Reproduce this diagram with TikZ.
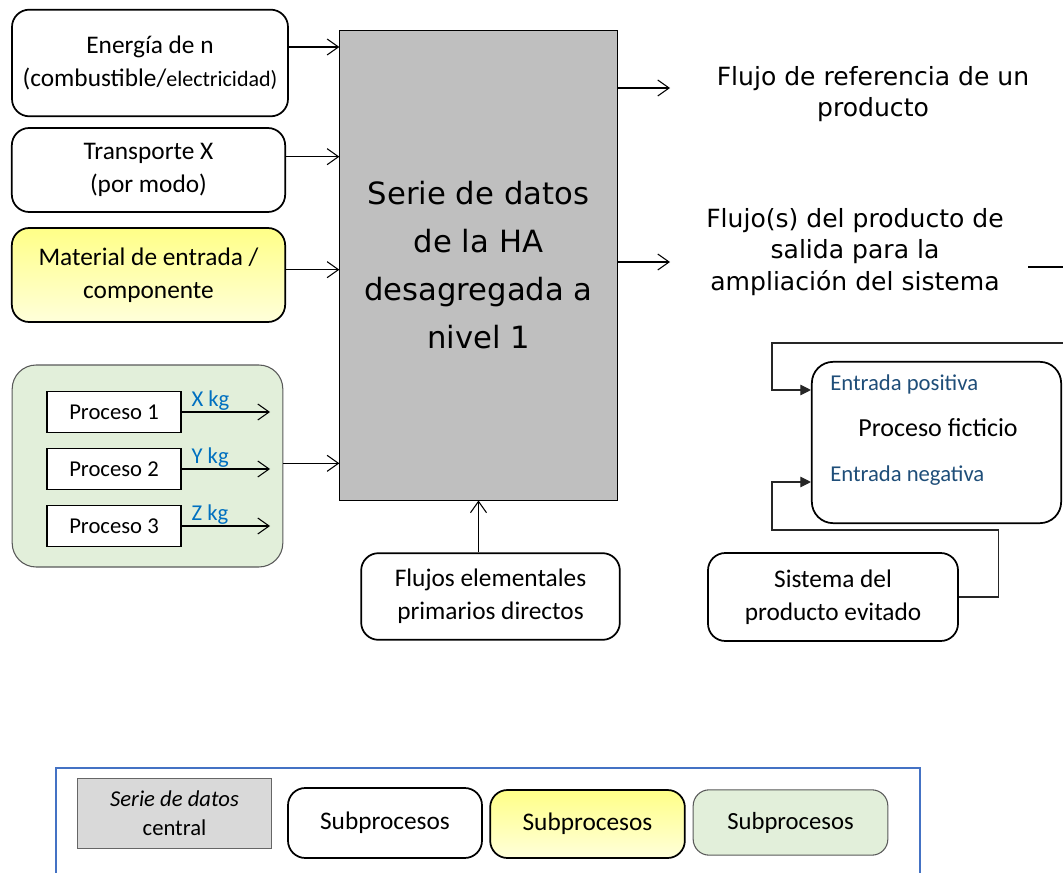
\documentclass[tikz,border=0pt]{standalone}
\usepackage{fontspec}
\setmainfont{Carlito}
\newfontfamily\verdfont{DejaVu Sans}
\usepackage{tikz}
\usetikzlibrary{arrows.meta}

\definecolor{coregray}{RGB}{191,191,191}
\definecolor{keygray}{RGB}{217,217,217}
\definecolor{groupgreen}{RGB}{226,239,218}
\definecolor{matyellowtop}{RGB}{255,255,135}
\definecolor{matyellowbot}{RGB}{255,255,218}
\definecolor{kgblue}{RGB}{0,112,192}
\definecolor{entblue}{RGB}{31,78,121}
\definecolor{legendblue}{RGB}{68,114,196}

\begin{document}
\begin{tikzpicture}[x=0.75pt, y=-0.75pt, >={Straight Barb[length=8.5pt,width=12pt]}]
    \useasboundingbox (0,0) rectangle (1063,873);

    % --- DEFINE STYLES ---
    % Style for the rounded sub-process boxes
    \tikzstyle{subproc} = [draw, line width=1.3pt, rounded corners=13pt, fill=white, align=center, inner sep=2pt, font=\fontsize{19}{24.5}\selectfont]
    % Style for the input material box
    \tikzstyle{matbox} = [subproc, top color=matyellowtop, bottom color=matyellowbot]
    % Style for the group of processes
    \tikzstyle{groupbox} = [draw=black!65, line width=0.8pt, fill=groupgreen, rounded corners=18pt]
    % Style for the single processes
    \tikzstyle{procbox} = [draw, line width=0.8pt, fill=white, minimum width=100.5pt, minimum height=31pt, font=\fontsize{17}{20}\selectfont]
    % Style for the central data set
    \tikzstyle{corebox} = [draw, line width=0.7pt, fill=coregray, minimum width=208pt, minimum height=352.5pt, align=center, font=\verdfont\fontsize{23}{36}\selectfont]
    % Style for the output texts
    \tikzstyle{outtext} = [align=center, font=\verdfont\fontsize{18.8}{23.5}\selectfont]
    % Style for the blue labels
    \tikzstyle{kglabel} = [text=kgblue, inner sep=1pt, font=\fontsize{17}{20}\selectfont]
    \tikzstyle{entlabel} = [text=entblue, inner sep=0pt, anchor=west, font=\fontsize{17}{20}\selectfont]
    % Style for the connectors
    \tikzstyle{flow} = [->, line width=0.8pt]
    \tikzstyle{fbarrow} = [-{Triangle[length=8pt,width=8pt]}, line width=0.8pt, black!85]
    % Style for the legend boxes
    \tikzstyle{keybox} = [minimum width=145.5pt, minimum height=52.5pt, align=center, font=\fontsize{18.5}{22}\selectfont]

    % --- CENTRAL DATA SET ---
    \node[corebox] (serie) at (478.5,265) {Serie de datos\\de la HA\\desagregada a\\nivel 1};

    % --- INPUT BOXES ---
    \node[subproc, minimum width=207pt, minimum height=80pt] (energia) at (150,63)
        {Energía de n\\(combustible/{\fontsize{16.5}{24.5}\selectfont electricidad)}};
    \node[subproc, minimum width=205pt, minimum height=63pt] (transporte) at (148.5,170)
        {Transporte X\\(por modo)};
    \node[matbox, minimum width=205pt, minimum height=70.5pt] (material) at (148.5,275)
        {Material de entrada /\\componente};

    \draw[flow] ([yshift=12pt]energia.east) -- ([yshift=12pt]energia.east -| serie.west);
    \draw[flow] ([yshift=10pt]transporte.east) -- ([yshift=10pt]transporte.east -| serie.west);
    \draw[flow] ([yshift=4pt]material.east) -- ([yshift=4pt]material.east -| serie.west);

    % --- GROUP OF PROCESSES ---
    \node[groupbox, minimum width=203pt, minimum height=151.5pt] (grupo) at (147.5,466) {};
    \foreach \i/\y/\m in {1/412/X, 2/469/Y, 3/526/Z} {
        \node[procbox] (p\i) at (114,\y) {Proceso \i};
        \draw[flow, shorten >=10pt] (p\i.east) -- (p\i.east -| grupo.east)
            node[kglabel, pos=0.08, anchor=south west] {\m\ kg};
    }
    \draw[flow] ([yshift=2pt]grupo.east) -- ([yshift=2pt]grupo.east -| serie.west);

    % --- ELEMENTARY FLOWS ---
    \node[subproc, minimum width=194pt, minimum height=65pt] (elemental) at (490.5,596.5)
        {Flujos elementales\\primarios directos};
    \draw[flow] (elemental.north -| serie.south) -- (serie.south);

    % --- OUTPUTS ---
    \node[outtext] (referencia) at (873,94) {Flujo de referencia de un\\producto};
    \node[outtext] (salida) at (855,252) {Flujo(s) del producto de\\salida para la\\ampliación del sistema};
    \coordinate (refend) at (670,88);
    \coordinate (salend) at (670,262);
    \draw[flow] (serie.east |- refend) -- (refend);
    \draw[flow] (serie.east |- salend) -- (salend);
    \coordinate (ampA) at (1028,267);
    \coordinate (ampB) at (1063,267);
    \draw[line width=0.8pt] (ampA) -- (ampB);

    % --- FICTITIOUS PROCESS ---
    \node[subproc, minimum width=187pt, minimum height=121pt, rounded corners=16pt] (ficticio) at (936.5,442.5) {};
    \node[entlabel] (positiva) at (830,384) {Entrada positiva};
    \node[font=\fontsize{19.5}{22}\selectfont] (ficttext) at (938,428) {Proceso ficticio};
    \node[entlabel] (negativa) at (830,476) {Entrada negativa};
    \node[subproc, minimum width=187.5pt, minimum height=66pt] (evitado) at (833,597)
        {Sistema del\\producto evitado};

    \coordinate (loopin) at (1063,343);
    \draw[fbarrow] (loopin) -- ++(-291,0) |- (ficticio.west |- 0,390);
    \draw[fbarrow] (evitado.east) -- ++(40,0) |- (772,530) |- (ficticio.west |- 0,482);

    % --- LEGEND ---
    \draw[legendblue, line width=0.8pt] (56,873) |- (920,768) -- (920,873);
    \node[keybox, draw=black!60, line width=0.6pt, fill=keygray, font=\fontsize{17}{22}\selectfont] (keycore) at (174.5,813)
        {\textit{Serie de datos}\\central};
    \node[keybox, subproc, minimum width=145.5pt, minimum height=52.5pt] (keywhite) at (385,823) {Subprocesos};
    \node[keybox, matbox, minimum width=146pt, minimum height=51pt] (keyyellow) at (587.5,824) {Subprocesos};
    \node[keybox, groupbox, rounded corners=12pt, minimum width=146pt, minimum height=49pt] (keygreen) at (790.5,822.5) {Subprocesos};
\end{tikzpicture}
\end{document}
